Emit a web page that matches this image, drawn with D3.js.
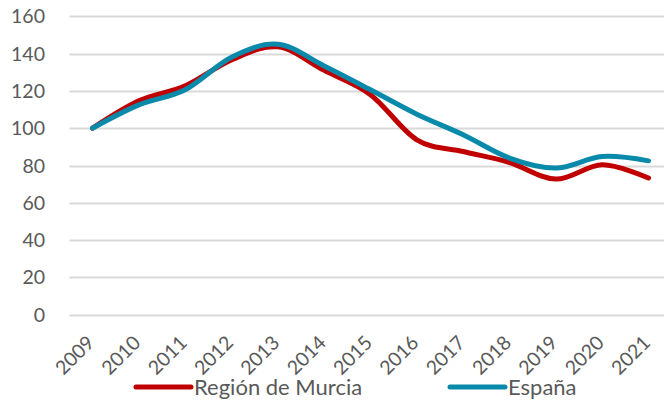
<!DOCTYPE html>
<html><head><meta charset="utf-8">
<script src="https://cdn.jsdelivr.net/npm/d3@7"></script>
<style>body{margin:0;background:#fff}svg{display:block}text{font-family:Lato,"Open Sans",sans-serif;fill:#595959}</style>
</head><body><svg id="c" width="664" height="400"></svg>
<script>
const years = ["2009","2010","2011","2012","2013","2014","2015","2016","2017","2018","2019","2020","2021"];
const murcia = [100,114.7,122.7,136.6,143.6,131,118,93.8,87.5,81.6,72.7,80.4,73.3];
const espana = [100,112.5,120.6,138,145,133.4,120.6,107.5,96.5,84,78.6,84.8,82.5];
const yTicks = [0,20,40,60,80,100,120,140,160];
const seriesNames = ["Región de Murcia","España"];
const colors = ["#C00000","#0A8AAB"];

const svg = d3.select("#c");
const x = d3.scalePoint().domain(years).range([92.5, 648.5]);
const y = d3.scaleLinear().domain([0,160]).range([314.7, 16.3]);

// gridlines
svg.append("g").selectAll("line").data(yTicks).join("line")
  .attr("x1",69.5).attr("x2",664).attr("y1",d=>Math.round(y(d))+0.5).attr("y2",d=>Math.round(y(d))+0.5)
  .attr("stroke","#d9d9d9").attr("stroke-width",2);

// y labels
svg.append("g").selectAll("text").data(yTicks).join("text")
  .attr("x",45).attr("y",d=>y(d)).attr("dy","0.36em").attr("text-anchor","end")
  .attr("font-size",19.5).text(d=>d);

// x labels
svg.append("g").selectAll("text").data(years).join("text")
  .attr("transform",d=>`translate(${x(d)+3},${344}) rotate(-45)`)
  .attr("text-anchor","end").attr("font-size",19.5).text(d=>d);

const line = d3.line().x((d,i)=>x(years[i])).y(d=>y(d)).curve(d3.curveCatmullRom.alpha(0));
[murcia, espana].forEach((s,i)=>{
  svg.append("path").datum(s).attr("d",line).attr("fill","none")
    .attr("stroke",colors[i]).attr("stroke-width",5).attr("stroke-linecap","round").attr("stroke-linejoin","round");
});

// legend
const legX = [136, 450];
seriesNames.forEach((n,i)=>{
  svg.append("line").attr("x1",legX[i]).attr("x2",legX[i]+55).attr("y1",387).attr("y2",387)
    .attr("stroke",colors[i]).attr("stroke-width",5).attr("stroke-linecap","round");
  svg.append("text").attr("x",legX[i]+58).attr("y",395).attr("font-size",22).text(n);
});
</script></body></html>
